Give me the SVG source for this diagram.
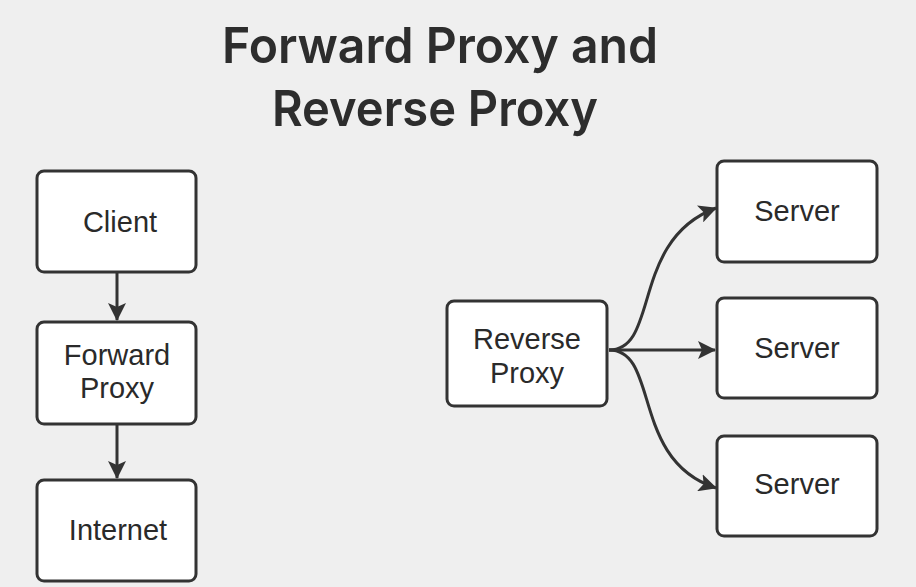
<svg xmlns="http://www.w3.org/2000/svg" width="916" height="587" viewBox="0 0 916 587">
<defs>
<style>
.box{fill:#ffffff;stroke:#333333;stroke-width:3}
.lbl{font-family:"Liberation Sans",Arial,sans-serif;font-size:29px;fill:#2a2a2a;text-anchor:middle}
.title{font-family:Inter,"Liberation Sans",Arial,sans-serif;font-size:50px;font-weight:600;fill:#2d2d2d;text-anchor:middle}
.conn{fill:none;stroke:#333333;stroke-width:3}
</style>
<marker id="ah" markerWidth="20" markerHeight="18" refX="17" refY="9" orient="auto" markerUnits="userSpaceOnUse">
<path d="M0,0 L18,9 L0,18 L4,9 Z" fill="#333333"/>
</marker>
</defs>
<rect width="916" height="587" fill="#efefef"/>
<g id="title">
<text class="title" x="440" y="63" textLength="436" lengthAdjust="spacingAndGlyphs">Forward Proxy and</text>
<text class="title" x="435" y="126" textLength="326" lengthAdjust="spacingAndGlyphs">Reverse Proxy</text>
</g>
<g id="connectors">
<path class="conn" d="M117,273 L117,320" marker-end="url(#ah)"/>
<path class="conn" d="M117,424 L117,478" marker-end="url(#ah)"/>
<path class="conn" d="M609,350 C660,350 630,240 716,208" marker-end="url(#ah)"/>
<path class="conn" d="M609,350 L715,350" marker-end="url(#ah)"/>
<path class="conn" d="M609,350 C660,350 630,460 716,488" marker-end="url(#ah)"/>
</g>
<g id="client">
<rect class="box" x="37" y="171" width="159" height="101" rx="7"/>
<text class="lbl" x="120" y="232">Client</text>
</g>
<g id="forward-proxy">
<rect class="box" x="37" y="322" width="159" height="102" rx="7"/>
<text class="lbl" x="117" y="365">Forward</text>
<text class="lbl" x="117" y="398">Proxy</text>
</g>
<g id="internet">
<rect class="box" x="37" y="480" width="159" height="101" rx="7"/>
<text class="lbl" x="118" y="540">Internet</text>
</g>
<g id="reverse-proxy">
<rect class="box" x="447" y="301" width="160" height="105" rx="7"/>
<text class="lbl" x="527" y="349">Reverse</text>
<text class="lbl" x="527" y="383">Proxy</text>
</g>
<g id="server1">
<rect class="box" x="717" y="161" width="160" height="101" rx="7"/>
<text class="lbl" x="797" y="221">Server</text>
</g>
<g id="server2">
<rect class="box" x="717" y="298" width="160" height="100" rx="7"/>
<text class="lbl" x="797" y="358">Server</text>
</g>
<g id="server3">
<rect class="box" x="717" y="436" width="160" height="100" rx="7"/>
<text class="lbl" x="797" y="494">Server</text>
</g>
</svg>
